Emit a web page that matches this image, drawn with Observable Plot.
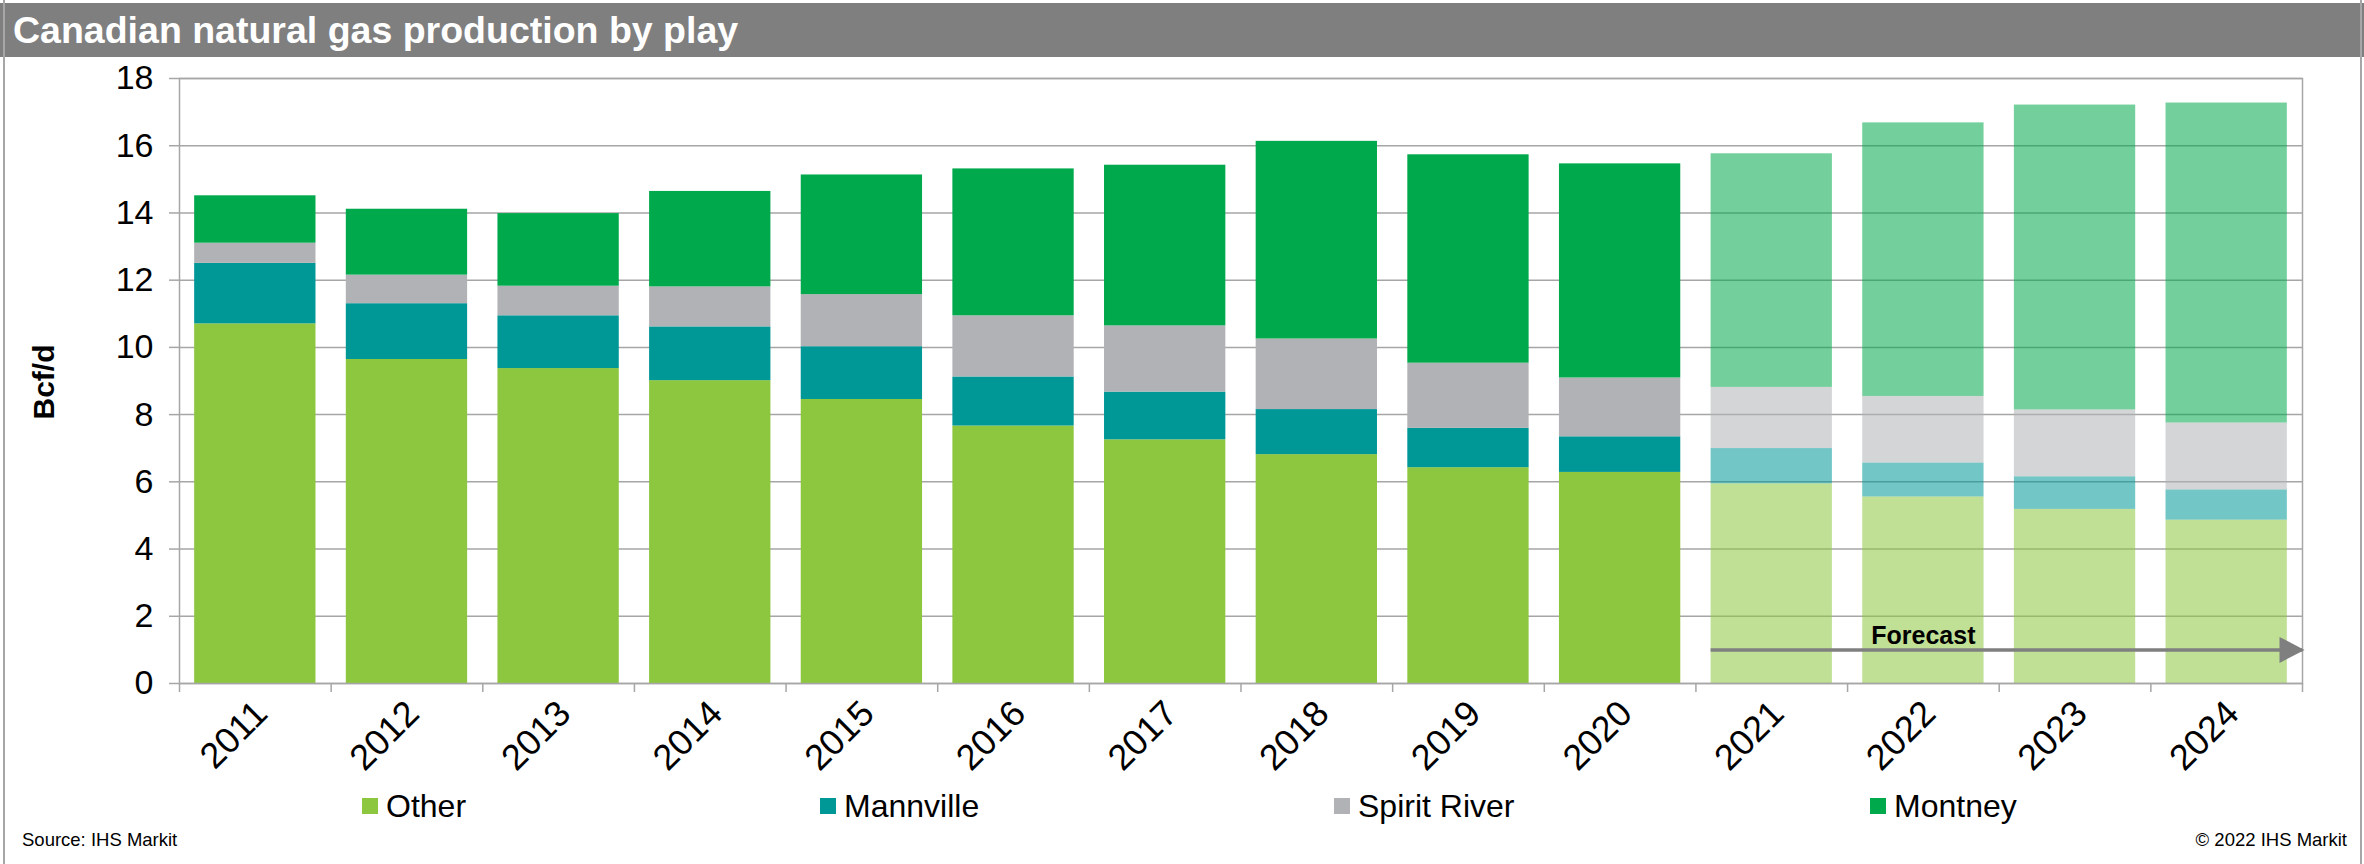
<!DOCTYPE html>
<html>
<head>
<meta charset="utf-8">
<script src="https://cdn.jsdelivr.net/npm/d3@7"></script>
<script src="https://cdn.jsdelivr.net/npm/@observablehq/plot@0.6"></script>
<style>
  body { margin: 0; background: #fff; font-family: "Liberation Sans", Arial, sans-serif; }
  #wrap { position: relative; width: 2364px; height: 864px; overflow: hidden; background: #fff; }
  #bl { position: absolute; left: 3px; top: 0; width: 2px; height: 864px; background: #a6a6a6; }
  #br { position: absolute; left: 2360px; top: 0; width: 2px; height: 864px; background: #a6a6a6; }
  #title { position: absolute; left: 0; top: 3px; width: 2364px; height: 54px; background: #7f7f7f; color: #fff;
           font-weight: bold; font-size: 37.5px; line-height: 54px; padding-left: 13px; box-sizing: border-box; white-space: nowrap; }
  #chart { position: absolute; left: 0; top: 56px; }
  #ylabel { position: absolute; left: 44px; top: 382px; transform: translate(-50%, -50%) rotate(-90deg);
            font-weight: bold; font-size: 30px; white-space: nowrap; color: #000; }
  .leg { position: absolute; top: 787px; height: 38px; display: flex; align-items: center; font-size: 32px; color: #000; white-space: nowrap; }
  .sw { width: 16px; height: 16px; margin-right: 8px; }
  .foot { position: absolute; top: 829px; font-size: 18.5px; color: #000; white-space: nowrap; }
</style>
</head>
<body>
<div id="wrap">
  <div id="title"></div>
  <div id="chart"></div>
  <div id="ylabel"></div>
  <div id="legend"></div>
  <div class="foot" id="source" style="left:22px;"></div>
  <div class="foot" id="copy" style="right:17px;"></div>
  <div id="bl"></div>
  <div id="br"></div>
</div>
<script>
// ---- Data ----
const titleText = "Canadian natural gas production by play";
const yAxisTitle = "Bcf/d";
const sourceText = "Source: IHS Markit";
const copyrightText = "© 2022 IHS Markit";

const years = [2011, 2012, 2013, 2014, 2015, 2016, 2017, 2018, 2019, 2020, 2021, 2022, 2023, 2024];
const seriesNames = ["Other", "Mannville", "Spirit River", "Montney"];
const seriesColors = ["#8DC63F", "#009797", "#B1B2B5", "#00A94B"];

const other       = [10.70, 9.64, 9.37, 9.01, 8.45, 7.66, 7.25, 6.81, 6.42, 6.28, 5.94, 5.55, 5.18, 4.86];
const mannville   = [1.80, 1.66, 1.57, 1.60, 1.57, 1.46, 1.42, 1.34, 1.17, 1.06, 1.05, 1.01, 0.97, 0.90];
const spiritRiver = [0.60, 0.85, 0.88, 1.19, 1.55, 1.82, 1.97, 2.10, 1.94, 1.75, 1.82, 1.98, 1.99, 1.99];
const montney     = [1.41, 1.96, 2.16, 2.84, 3.56, 4.37, 4.78, 5.88, 6.20, 6.37, 6.95, 8.14, 9.07, 9.52];

const yTicks = [0, 2, 4, 6, 8, 10, 12, 14, 16, 18];
const forecastStart = 2021;     // first forecast year
const forecastLabel = "Forecast";
const forecastLabelYear = 2022; // label centred over this year
const forecastArrowValue = 1;   // arrow drawn at 1 Bcf/d

// ---- Build tables ----
const seriesValues = [other, mannville, spiritRiver, montney];
const rows = [];
years.forEach((yr, i) => seriesNames.forEach((s, j) => rows.push({year: yr, series: s, value: seriesValues[j][i]})));
const hist = rows.filter(d => d.year < forecastStart);
const fcst = rows.filter(d => d.year >= forecastStart);

const half = 0.4; // bar half-width in year units
const xDomain = [years[0] - 0.5, years[years.length - 1] + 0.5];
const boundaries = d3.range(xDomain[0], xDomain[1] + 0.001, 1);
const arrowRow = [{x1: forecastStart - half, x2: xDomain[1], y: forecastArrowValue}];
const labelRow = [{x: forecastLabelYear, y: forecastArrowValue, text: forecastLabel}];

const arrowHead = {
  draw(ctx) { ctx.moveTo(2, 0); ctx.lineTo(-23, -13); ctx.lineTo(-23, 13); ctx.closePath(); }
};

const gridColor = "#a6a6a6";
const font = "'Liberation Sans', Arial, sans-serif";

const chart = Plot.plot({
  width: 2364,
  height: 730,
  marginTop: 22,
  marginBottom: 103,
  marginLeft: 179,
  marginRight: 62,
  style: {fontFamily: font, color: "#000", background: "transparent"},
  x: {type: "linear", domain: xDomain, axis: null},
  y: {domain: [0, 18], axis: null},
  color: {domain: seriesNames, range: seriesColors},
  marks: [
    Plot.ruleY(yTicks, {stroke: gridColor, strokeWidth: 1.5}),
    Plot.rectY(hist, {x1: d => d.year - half, x2: d => d.year + half, y: "value", fill: "series"}),
    Plot.rectY(fcst, {x1: d => d.year - half, x2: d => d.year + half, y: "value", fill: "series", fillOpacity: 0.55}),
    Plot.frame({stroke: gridColor, strokeWidth: 1.5}),
    Plot.axisY(yTicks, {anchor: "left", tickSize: 10, tickPadding: 16, fontSize: 34, stroke: gridColor, strokeWidth: 1.5, tickFormat: d => String(d), label: null}),
    Plot.axisX(boundaries, {anchor: "bottom", tickSize: 9, stroke: gridColor, strokeWidth: 1.5, tickFormat: () => "", label: null}),
    Plot.axisX(years, {anchor: "bottom", tickSize: 0, tickPadding: 24, tickRotate: -45, fontSize: 36, tickFormat: d => String(d), label: null, dx: 6}),
    Plot.ruleY(arrowRow, {x1: "x1", x2: "x2", y: "y", stroke: "#7f7f7f", strokeWidth: 3.5}),
    Plot.dot(arrowRow, {x: "x2", y: "y", symbol: arrowHead, fill: "#7f7f7f", stroke: "none", r: 10}),
    Plot.text(labelRow, {x: "x", y: "y", text: "text", fontWeight: "bold", fontSize: 25, textAnchor: "middle", lineAnchor: "bottom", dy: -6, fill: "#000"})
  ]
});
document.getElementById("chart").appendChild(chart);

document.getElementById("title").textContent = titleText;
document.getElementById("ylabel").textContent = yAxisTitle;
document.getElementById("source").textContent = sourceText;
document.getElementById("copy").textContent = copyrightText;

const legendLeft = [362, 820, 1334, 1870];
const legend = document.getElementById("legend");
seriesNames.forEach((name, i) => {
  const item = document.createElement("div");
  item.className = "leg";
  item.style.left = legendLeft[i] + "px";
  const sw = document.createElement("div");
  sw.className = "sw";
  sw.style.background = seriesColors[i];
  const lab = document.createElement("span");
  lab.textContent = name;
  item.appendChild(sw);
  item.appendChild(lab);
  legend.appendChild(item);
});
</script>
</body>
</html>
